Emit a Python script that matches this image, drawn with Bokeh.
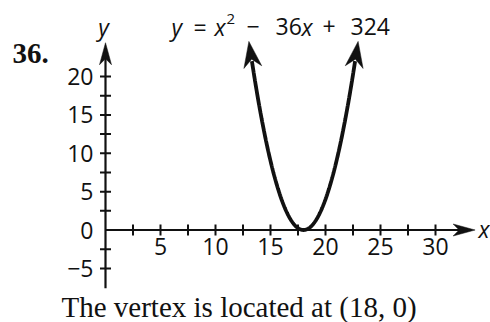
import numpy as np
from bokeh.plotting import figure
from bokeh.models import Range1d
from bokeh.core.properties import value
from bokeh.embed import file_html
from bokeh.resources import INLINE

# y = x^2 - 36x + 324
coef_a, coef_b, coef_c = 1, -36, 324
vertex = (18, 0)
curve_top = 22.0                      # curve is drawn up to this y, arrowheads continue it

x_ticks = [2.5, 5, 7.5, 10, 12.5, 15, 17.5, 20, 22.5, 25, 27.5, 30]
x_label_values = [5, 10, 15, 20, 25, 30]
x_tick_labels = ["5", "10", "15", "20", "25", "30"]
y_ticks = [-5, -2.5, 2.5, 5, 7.5, 10, 12.5, 15, 17.5, 20]
y_label_values = [-5, 0, 5, 10, 15, 20]
y_tick_labels = ["\u22125", "0", "5", "10", "15", "20"]
x_axis_end = 33.6
y_axis_top = 24.4
y_axis_bottom = -7.6

W, H = 490, 322
ORIGIN_PX = (105.0, 229.5)            # canvas position of (0, 0)
SX, SY = 11.0, 7.675                  # pixels per unit

SANS = "Open Sans"
SERIF = "Liberation Serif"
INK = "#111111"


def X(px):
    return (px - ORIGIN_PX[0]) / SX


def Y(py):
    return (ORIGIN_PX[1] - py) / SY


p = figure(width=W, height=H, output_backend="svg", toolbar_location=None,
           x_range=Range1d(X(0), X(W)), y_range=Range1d(Y(H), Y(0)),
           min_border=0, outline_line_color=None)
p.axis.visible = False
p.grid.visible = False
p.background_fill_color = "white"
p.border_fill_color = "white"


def arrow_head(tip, direction, length=22, half_width=6.5, notch=6):
    """Notched arrowhead polygon; sizes in pixels, direction in screen (y up)."""
    ux, uy = direction
    n = np.hypot(ux, uy)
    ux, uy = ux / n, uy / n
    vx, vy = -uy, ux
    pts = [(0, 0),
           (-length * ux + half_width * vx, -length * uy + half_width * vy),
           (-(length - notch) * ux, -(length - notch) * uy),
           (-length * ux - half_width * vx, -length * uy - half_width * vy)]
    xs = [tip[0] + a / SX for a, _ in pts]
    ys = [tip[1] + b / SY for _, b in pts]
    return xs, ys


# axes
p.line([0, x_axis_end - 14 / SX], [0, 0], line_color=INK, line_width=2.2)
p.line([0, 0], [y_axis_bottom, y_axis_top - 14 / SY], line_color=INK, line_width=2.2)
hx, hy = arrow_head((x_axis_end, 0), (1, 0), length=22, half_width=6)
p.patch(hx, hy, fill_color=INK, line_color=INK, line_width=0.5)
hx, hy = arrow_head((0, y_axis_top), (0, 1), length=22, half_width=6)
p.patch(hx, hy, fill_color=INK, line_color=INK, line_width=0.5)

# tick marks
tick_half = 5.5
p.segment(x0=x_ticks, y0=[-tick_half / SY] * len(x_ticks),
          x1=x_ticks, y1=[tick_half / SY] * len(x_ticks),
          line_color=INK, line_width=2)
p.segment(x0=[-tick_half / SX] * len(y_ticks), y0=y_ticks,
          x1=[tick_half / SX] * len(y_ticks), y1=y_ticks,
          line_color=INK, line_width=2)

# tick labels
p.text(x=x_label_values, y=[0] * len(x_label_values), text=x_tick_labels,
       text_font=value(SANS), text_font_size="23px", text_color=INK,
       text_align="center", text_baseline="top", y_offset=8)
p.text(x=[0] * len(y_label_values), y=y_label_values, text=y_tick_labels,
       text_font=value(SANS), text_font_size="23px", text_color=INK,
       text_align="right", text_baseline="middle", x_offset=-12)

# parabola
half = np.sqrt((curve_top - (coef_c - coef_b ** 2 / (4 * coef_a))) / coef_a)
xs = np.linspace(vertex[0] - half, vertex[0] + half, 300)
ys = coef_a * xs ** 2 + coef_b * xs + coef_c
p.line(xs, ys, line_color=INK, line_width=3.8)
for xe, sgn in ((xs[0], -1), (xs[-1], 1)):
    ye = coef_a * xe ** 2 + coef_b * xe + coef_c
    slope = 2 * coef_a * xe + coef_b
    d_px = (sgn * SX, sgn * slope * SY)
    n = np.hypot(*d_px)
    tip = (xe + 20 * d_px[0] / n / SX, ye + 20 * d_px[1] / n / SY)
    hx, hy = arrow_head(tip, d_px, length=26, half_width=9, notch=8)
    p.patch(hx, hy, fill_color=INK, line_color=INK, line_width=0.5)

# axis names
p.text(x=[X(478)], y=[Y(228.5)], text=["x"], text_font=value(SANS), text_font_style="italic",
       text_font_size="23px", text_color=INK, text_align="left", text_baseline="middle")
p.text(x=[X(103)], y=[Y(26)], text=["y"], text_font=value(SANS), text_font_style="italic",
       text_font_size="23px", text_color=INK, text_align="center", text_baseline="middle")

# equation
eq_mid = Y(26)
pieces = [
    (171, "y", "italic", "23px", 0),
    (193, "=", "normal", "23px", 0),
    (214, "x", "italic", "23px", 0),
    (226, "2", "normal", "15px", 8),
    (246, "\u2212", "normal", "23px", 0),
    (275, "36", "normal", "23px", 0),
    (301, "x", "italic", "23px", 0),
    (322, "+", "normal", "23px", 0),
    (350, "324", "normal", "23px", 0),
]
for px, txt, style, size, raise_px in pieces:
    p.text(x=[X(px)], y=[eq_mid + raise_px / SY], text=[txt], text_font=value(SANS),
           text_font_style=style, text_font_size=size, text_color=INK,
           text_align="left", text_baseline="middle")

# problem number and caption
p.text(x=[X(12)], y=[Y(53)], text=["36."], text_font=value(SERIF), text_font_style="bold",
       text_font_size="29px", text_color=INK, text_align="left", text_baseline="middle")
p.text(x=[X(61)], y=[Y(306)],
       text=[f"The vertex is located at ({vertex[0]}, {vertex[1]})"],
       text_font=value(SERIF), text_font_size="29px", text_color=INK,
       text_align="left", text_baseline="middle")

open("out.html", "w").write(file_html(p, INLINE))
